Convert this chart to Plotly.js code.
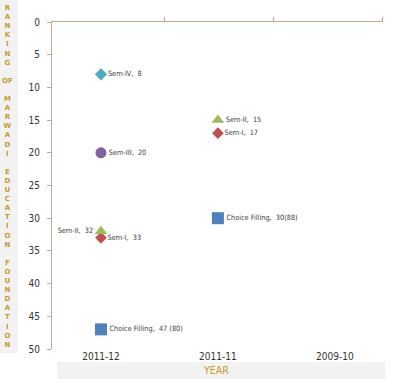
<!DOCTYPE html>
<html>
<head>
<meta charset="utf-8">
<script src="https://cdn.plot.ly/plotly-3.0.1.min.js"></script>
<style>html,body{margin:0;padding:0;background:#fff;}#chart{width:414px;height:379px;}</style>
</head>
<body>
<div id="chart"></div>
<script>
const years = ['2011-12', '2011-11', '2009-10'];
const semI = [33, 17, null];
const semII = [32, 15, null];
const semIII = [20, null, null];
const semIV = [8, null, null];
const choiceFilling = [47, 30, null];
const choiceFillingNote = [' (80)', '(88)', ''];
const yTitleWords = ['RANKING', 'OF', 'MARWADI', 'EDUCATION', 'FOUNDATION'];
const xTitle = 'YEAR';

const NB = '\u00a0';
function labels(name, vals, notes) {
  return vals.map((v, i) => v == null ? '' : name + ',' + NB + ' ' + v + (notes ? notes[i] : ''));
}

const labelFont = {family: '"DejaVu Sans Condensed", "DejaVu Sans", sans-serif', size: 7.3, color: '#404040'};

function series(name, vals, symbol, color, size, pos, notes) {
  return {
    type: 'scatter', mode: 'markers+text', x: years, y: vals,
    name: name, text: labels(name, vals, notes), textposition: pos,
    textfont: labelFont, cliponaxis: false,
    marker: {symbol: symbol, color: color, size: size}
  };
}

const traces = [
  series('Choice Filling', choiceFilling, 'square', '#4f81bd', 12, 'middle right', choiceFillingNote),
  series('Sem-I', semI, 'diamond', '#c0504d', 9, 'middle right'),
  series('Sem-II', semII, 'triangle-up', '#9bbb59', 11, ['middle left', 'middle right', 'middle right']),
  series('Sem-III', semIII, 'circle', '#8064a2', 11, 'middle right'),
  series('Sem-IV', semIV, 'diamond', '#4bacc6', 9.5, 'middle right'),
  // invisible helper so the top (category-boundary) axis is drawn
  {type: 'scatter', mode: 'markers', x: years.map((_, i) => i), y: choiceFilling, xaxis: 'x2', yaxis: 'y',
   marker: {opacity: 0}, hoverinfo: 'skip', showlegend: false}
];

const gold = '#c59b2e';
const axisTan = '#c4a88a';
const tickFont = {family: '"DejaVu Sans Condensed", "DejaVu Sans", sans-serif', size: 10, color: '#333333'};

const vertLetters = yTitleWords.map(w => w === 'OF' ? w : w.split('').join('<br>')).join('<br> <br>');

const layout = {
  width: 414, height: 379,
  margin: {l: 52, r: 31, t: 22, b: 30, pad: 0},
  paper_bgcolor: '#ffffff', plot_bgcolor: '#ffffff',
  showlegend: false, hovermode: false,
  xaxis: {
    type: 'category', range: [-0.419, 2.412], showline: false, showgrid: false,
    zeroline: false, ticks: '', tickfont: tickFont, fixedrange: true
  },
  xaxis2: {
    overlaying: 'x', side: 'top', anchor: 'y', type: 'linear', range: [-0.419, 2.412],
    showline: true, linecolor: axisTan, linewidth: 1, showgrid: false, zeroline: false,
    ticks: 'outside', ticklen: 4, tickcolor: axisTan, tickvals: [0.547, 1.479, 2.41],
    showticklabels: false
  },
  yaxis: {
    range: [50, 0], tick0: 0, dtick: 5, showline: true, linecolor: axisTan, linewidth: 1,
    showgrid: false, zeroline: false, ticks: 'outside', ticklen: 4, tickcolor: axisTan,
    tickfont: tickFont, ticklabelstandoff: 5
  },
  shapes: [
    {type: 'rect', xref: 'paper', yref: 'paper', x0: -0.157, x1: -0.1027, y0: -0.0122, y1: 1.067,
     fillcolor: '#f2f2f2', line: {width: 0}, layer: 'below'},
    {type: 'rect', xref: 'paper', yref: 'paper', x0: 0.0151, x1: 1.006, y0: -0.0398, y1: -0.0917,
     fillcolor: '#f2f2f2', line: {width: 0}, layer: 'below'}
  ],
  annotations: [
    {xref: 'paper', yref: 'paper', x: -0.133, y: 0.529, xanchor: 'center', yanchor: 'middle',
     text: '<b>' + vertLetters + '</b>', showarrow: false, align: 'center',
     font: {family: '"DejaVu Sans", sans-serif', size: 7, color: gold}},
    {xref: 'paper', yref: 'paper', x: 0.4955, y: -0.0642, xanchor: 'center', yanchor: 'middle',
     text: xTitle, showarrow: false,
     font: {family: '"DejaVu Sans Condensed", "DejaVu Sans", sans-serif', size: 10.5, color: gold}}
  ]
};

Plotly.newPlot('chart', traces, layout, {displayModeBar: false, staticPlot: true});
</script>
</body>
</html>
